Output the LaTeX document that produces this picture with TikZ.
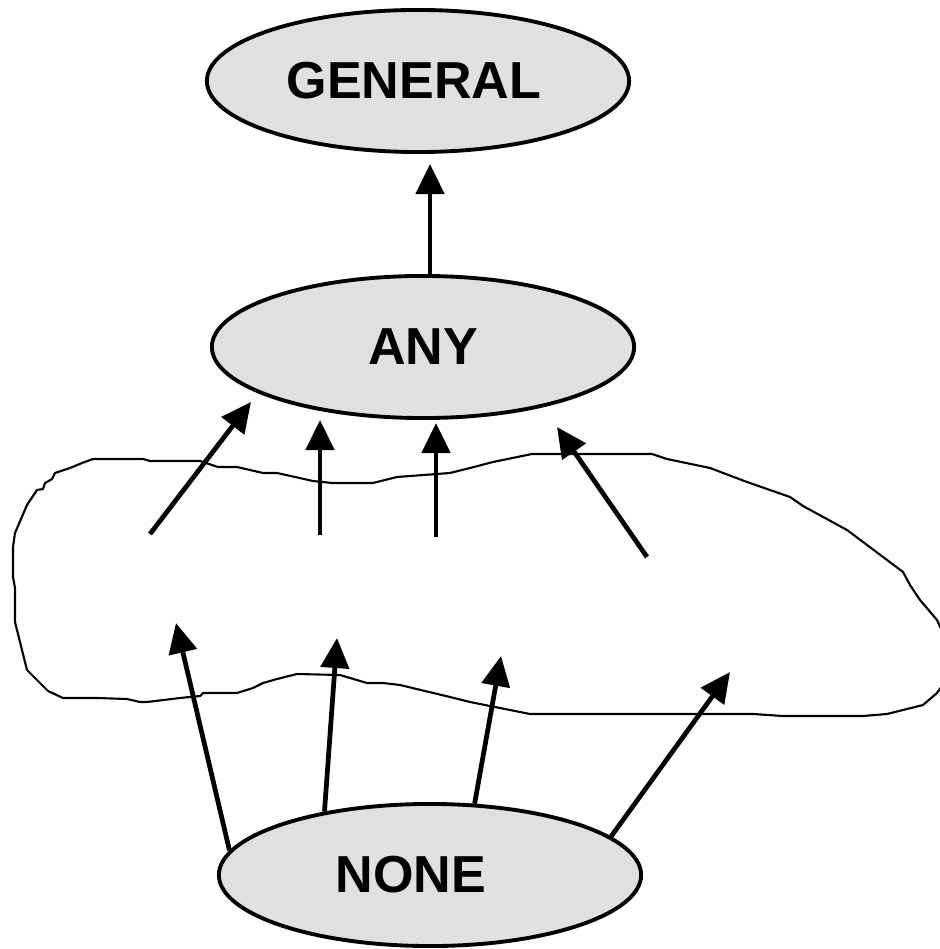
\documentclass[tikz,border=0pt]{standalone}
\usepackage{fontspec}
\setmainfont{Liberation Sans}
\usetikzlibrary{arrows.meta,shapes.geometric}
\begin{document}
\begin{tikzpicture}[x=0.01cm,y=-0.01cm,
  term/.style={ellipse, draw, line width=1.1pt, fill=black!12,
    minimum width=4.22cm, minimum height=1.42cm, inner sep=0pt,
    font=\bfseries\fontsize{14.8}{18}\selectfont},
  link/.style={line width=1.35pt, -{Triangle[length=0.3cm,width=0.28cm]}},
  outline/.style={line width=0.6pt, line join=round}]
\useasboundingbox (0,0) rectangle (939,949);

% the three levels
\node[term] (general) at (418,81) {GENERAL\kern0.08cm};
\node[term] (any) at (423,347) {ANY};
\node[term] (none) at (430,875) {NONE\kern0.38cm};

% freehand region between ANY and NONE
\draw[outline] (93,459) -- (143,459) -- (150,461) -- (200,461) -- (218,467)
  -- (237,467) -- (263,473) -- (277,473) -- (313,481) -- (332,483) -- (373,483)
  -- (397,477) -- (450,473) -- (470,468) -- (493,462) -- (532,454) -- (652,454)
  -- (667,459) -- (710,468) -- (747,482) -- (790,497) -- (803,506) -- (847,530)
  -- (883,557) -- (903,572) -- (910,585) -- (920,600) -- (937,620) -- (946,640)
  -- (946,680) -- (937,693) -- (923,705) -- (887,714) -- (863,716) -- (783,716)
  -- (753,714) -- (530,714) -- (490,706) -- (470,702) -- (450,697) -- (400,685)
  -- (383,683) -- (367,683) -- (340,675) -- (297,674) -- (277,679) -- (263,683)
  -- (253,688) -- (237,693) -- (203,693) -- (200,696) -- (180,698) -- (147,702)
  -- (140,702) -- (127,699) -- (97,698) -- (63,698) -- (48,691) -- (40,683)
  -- (27,670) -- (22,650) -- (15,622) -- (15,588) -- (13,577) -- (13,547)
  -- (15,533) -- (27,505) -- (37,490) -- (43,489) -- (45,483) -- (52,479)
  -- (55,473) -- (70,468) -- (82,463) -- cycle;

% ANY to GENERAL
\coordinate (gtip) at (430,164);
\draw[link] (any.north -| gtip) -- (gtip);

% arrows from inside the region up to ANY
\coordinate (ta) at (150,534); \coordinate (ha) at (251,402);
\coordinate (tb) at (320,535); \coordinate (hb) at (320,420);
\coordinate (tc) at (436,537); \coordinate (hc) at (436,423);
\coordinate (td) at (647,557); \coordinate (hd) at (557,427);
\draw[link] (ta) -- (ha);
\draw[link] (tb) -- (hb);
\draw[link] (tc) -- (hc);
\draw[link] (td) -- (hd);

% arrows from NONE up into the region
\coordinate (he) at (176,623);
\coordinate (hf) at (337,638);
\coordinate (hg) at (501,656);
\coordinate (hh) at (730,672);
\draw[link] (none.173.5) -- (he);
\draw[link] (none.149) -- (hf);
\draw[link] (none.58) -- (hg);
\draw[link] (none.12) -- (hh);
\end{tikzpicture}
\end{document}
